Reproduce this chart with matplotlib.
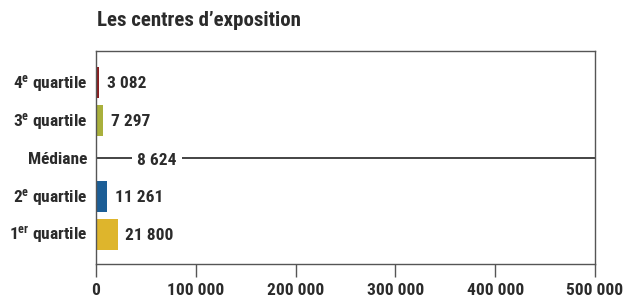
import matplotlib
matplotlib.use("Agg")
import matplotlib.pyplot as plt

fam = "Roboto Condensed"
plt.rcParams['font.family'] = [fam, 'DejaVu Sans']
plt.rcParams['font.weight'] = 'bold'
plt.rcParams['mathtext.fontset'] = 'custom'
plt.rcParams['mathtext.rm'] = fam + ':bold'
plt.rcParams['mathtext.it'] = fam + ':bold'
plt.rcParams['mathtext.bf'] = fam + ':bold'

title = "Les centres d\u2019exposition"
categories = ["1$^{\\mathregular{er}}$ quartile", "2$^{\\mathregular{e}}$ quartile", "Médiane",
              "3$^{\\mathregular{e}}$ quartile", "4$^{\\mathregular{e}}$ quartile"]
values = [21800, 11261, 8624, 7297, 3082]
labels = ["21 800", "11 261", "8 624", "7 297", "3 082"]
colors = ["#DEB52C", "#1C5E96", None, "#A9B03C", "#8A1C1F"]
xticks = [0, 100000, 200000, 300000, 400000, 500000]
xticklabels = ["0", "100 000", "200 000", "300 000", "400 000", "500 000"]

fig = plt.figure(figsize=(6.39, 3.01), dpi=100)
ax = fig.add_axes([96/639, 1-264/301, (595-96)/639, (264-51)/301])

txtc = "#2b2b2b"
fs = 12.5
for i, (v, lab, c, cat) in enumerate(zip(values, labels, colors, categories)):
    ax.annotate(cat, xy=(0, i), xytext=(-6.5, -4.0), textcoords="offset points",
                ha="right", va="baseline", fontsize=fs, color=txtc, annotation_clip=False)
    if c is None:
        ax.axhline(i, color="#111111", lw=1.1, zorder=1)
        ax.annotate(lab, xy=(61000, i), xytext=(0, -4.5), textcoords="offset points",
                    ha="center", va="baseline", fontsize=fs, color=txtc, zorder=3,
                    bbox=dict(facecolor="white", edgecolor="none", pad=4))
    else:
        ax.barh(i, v, height=0.8, color=c, zorder=2)
        ax.annotate(lab, xy=(v, i), xytext=(5.5, -4.0), textcoords="offset points",
                    ha="left", va="baseline", fontsize=fs, color=txtc)

ax.set_xlim(0, 500000)
ax.set_ylim(-0.78, 4.83)
ax.set_yticks([])
ax.set_xticks(xticks)
ax.set_xticklabels(xticklabels, fontsize=fs, color=txtc)
ax.tick_params(axis='x', length=9, width=1, color="#555555", direction='out', pad=5)
for s in ax.spines.values():
    s.set_color("#555555")
    s.set_linewidth(1)

fig.text(97/639, 1-26.5/301, title, fontsize=15, fontweight='bold', color=txtc, va="baseline", ha="left")

fig.savefig("out.png", dpi=100)
